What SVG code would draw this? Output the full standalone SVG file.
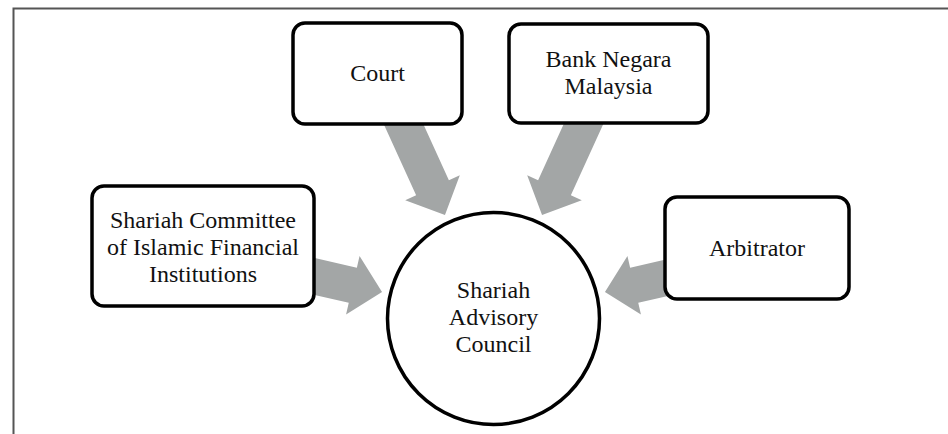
<svg xmlns="http://www.w3.org/2000/svg" width="948" height="434" viewBox="0 0 948 434">
<style>
.box{fill:#fff;stroke:#000;stroke-width:3.5}
.arr{fill:#a3a6a6;stroke:none}
.t{font-family:"Liberation Serif","Times New Roman",serif;font-size:24px;fill:#111;text-anchor:middle}
.frame{fill:none;stroke:#555;stroke-width:2}
</style>
<rect width="948" height="434" fill="#fff"/>
<path class="frame" d="M13.5,434 V8.5 H948"/>
<g id="connectors">
<polygon class="arr" transform="translate(397.1,110) rotate(65.5)" points="0,-18 85.4,-18 85.4,-30 115.4,0 85.4,30 85.4,18 0,18"/>
<polygon class="arr" transform="translate(589.9,110) rotate(114.5)" points="0,-18 85.4,-18 85.4,-30 115.4,0 85.4,30 85.4,18 0,18"/>
<polygon class="arr" transform="translate(300,273.1) rotate(13)" points="0,-18 54.2,-18 54.2,-30 84.2,0 54.2,30 54.2,18 0,18"/>
<polygon class="arr" transform="translate(687,273.1) rotate(167)" points="0,-18 54.2,-18 54.2,-30 84.2,0 54.2,30 54.2,18 0,18"/>
</g>
<g id="court">
<rect class="box" x="293" y="23" width="169" height="101" rx="12"/>
<text class="t" x="377.5" y="81">Court</text>
</g>
<g id="bnm">
<rect class="box" x="509" y="24" width="199" height="99" rx="12"/>
<text class="t" x="608.5" y="66.5">Bank Negara</text>
<text class="t" x="608.5" y="93.5">Malaysia</text>
</g>
<g id="scifi">
<rect class="box" x="92" y="186" width="222" height="120" rx="12"/>
<text class="t" x="203" y="227.5">Shariah Committee</text>
<text class="t" x="203" y="254.5">of Islamic Financial</text>
<text class="t" x="203" y="281.5">Institutions</text>
</g>
<g id="arbitrator">
<rect class="box" x="665" y="197" width="184" height="102" rx="12"/>
<text class="t" x="757" y="256">Arbitrator</text>
</g>
<g id="sac">
<circle class="box" cx="493.5" cy="318.5" r="106" stroke-width="3"/>
<text class="t" x="493.5" y="298">Shariah</text>
<text class="t" x="493.5" y="325">Advisory</text>
<text class="t" x="493.5" y="352">Council</text>
</g>
</svg>
